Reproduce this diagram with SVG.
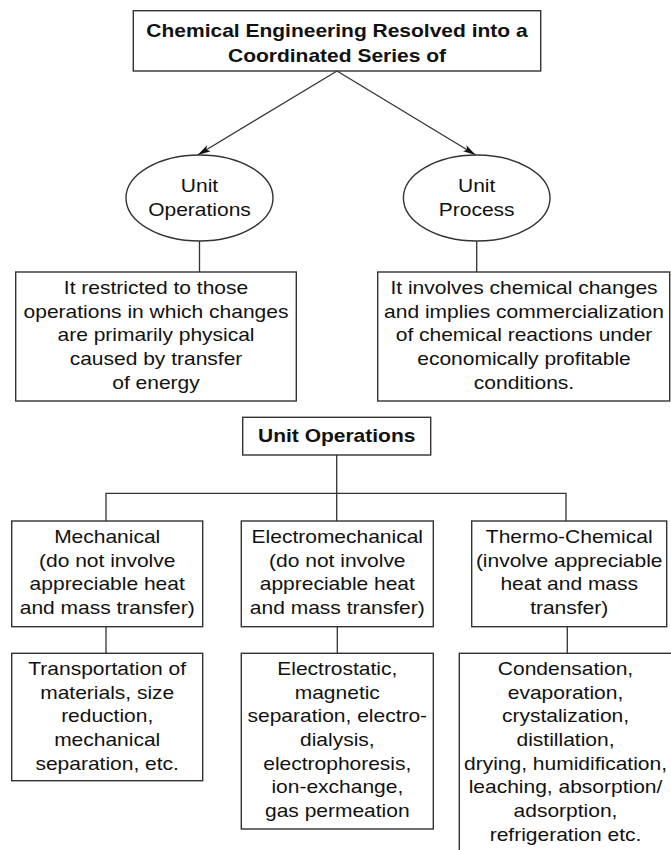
<svg xmlns="http://www.w3.org/2000/svg" width="671" height="850" viewBox="0 0 671 850">
<style>
.box{fill:#fff;stroke:#333;stroke-width:1.4}
.t{font-family:"Liberation Sans",Arial,sans-serif;font-size:17.5px;fill:#111;text-anchor:middle}
.b{font-weight:bold}
.c{fill:none;stroke:#333;stroke-width:1.3}
</style>
<defs>
<marker id="arr" markerUnits="userSpaceOnUse" markerWidth="14" markerHeight="8" refX="13" refY="3.5" orient="auto">
<path d="M0,0 L13,3.5 L0,7 L3,3.5 z" fill="#111"/>
</marker>
</defs>
<rect width="671" height="850" fill="#fff"/>

<g id="connectors">
<line class="c" x1="337" y1="71" x2="197.7" y2="155" marker-end="url(#arr)"/>
<line class="c" x1="337" y1="71" x2="475.7" y2="155" marker-end="url(#arr)"/>
<line class="c" x1="199.5" y1="241" x2="199.5" y2="272"/>
<line class="c" x1="476.7" y1="241" x2="476.7" y2="272"/>
<line class="c" x1="336.7" y1="455" x2="336.7" y2="493.3"/>
<polyline class="c" points="106,521 106,493.3 566,493.3 566,521"/>
<line class="c" x1="336.7" y1="493.3" x2="336.7" y2="521"/>
<line class="c" x1="106" y1="626.7" x2="106" y2="653.3"/>
<line class="c" x1="337.3" y1="626.7" x2="337.3" y2="653.3"/>
<line class="c" x1="567.3" y1="626.7" x2="567.3" y2="653.3"/>
</g>

<g id="top">
<rect class="box" x="133.3" y="10.7" width="407.4" height="60.3"/>
<text class="t b" transform="translate(337,0) scale(1.2,1)"><tspan x="0" y="37.3">Chemical Engineering Resolved into a</tspan><tspan x="0" y="62.3">Coordinated Series of</tspan></text>
</g>

<g id="unit-operations-ellipse">
<ellipse class="box" cx="199.5" cy="198" rx="73.5" ry="43"/>
<text class="t" transform="translate(199.5,0) scale(1.2,1)"><tspan x="0" y="192">Unit</tspan><tspan x="0" y="216">Operations</tspan></text>
</g>

<g id="unit-process-ellipse">
<ellipse class="box" cx="476.7" cy="198" rx="73.3" ry="43"/>
<text class="t" transform="translate(476.7,0) scale(1.2,1)"><tspan x="0" y="192">Unit</tspan><tspan x="0" y="216">Process</tspan></text>
</g>

<g id="ops-desc">
<rect class="box" x="15.7" y="272" width="280.6" height="129"/>
<text class="t" transform="translate(156,0) scale(1.2,1)"><tspan x="0" y="294">It restricted to those</tspan><tspan x="0" y="317.7">operations in which changes</tspan><tspan x="0" y="341.4">are primarily physical</tspan><tspan x="0" y="365.1">caused by transfer</tspan><tspan x="0" y="388.8">of energy</tspan></text>
</g>

<g id="process-desc">
<rect class="box" x="377.7" y="272" width="292" height="129"/>
<text class="t" transform="translate(524,0) scale(1.2,1)"><tspan x="0" y="294">It involves chemical changes</tspan><tspan x="0" y="317.7">and implies commercialization</tspan><tspan x="0" y="341.4">of chemical reactions under</tspan><tspan x="0" y="365.1">economically profitable</tspan><tspan x="0" y="388.8">conditions.</tspan></text>
</g>

<g id="unit-operations-box">
<rect class="box" x="242.7" y="417.3" width="188" height="37.7"/>
<text class="t b" transform="translate(336.7,0) scale(1.2,1)"><tspan x="0" y="441.7">Unit Operations</tspan></text>
</g>

<g id="mechanical">
<rect class="box" x="11.7" y="521" width="191" height="105.7"/>
<text class="t" transform="translate(107.2,0) scale(1.2,1)"><tspan x="0" y="543">Mechanical</tspan><tspan x="0" y="566.7">(do not involve</tspan><tspan x="0" y="590.4">appreciable heat</tspan><tspan x="0" y="614.1">and mass transfer)</tspan></text>
</g>

<g id="electromechanical">
<rect class="box" x="241.3" y="521" width="192" height="105.7"/>
<text class="t" transform="translate(337.3,0) scale(1.2,1)"><tspan x="0" y="543">Electromechanical</tspan><tspan x="0" y="566.7">(do not involve</tspan><tspan x="0" y="590.4">appreciable heat</tspan><tspan x="0" y="614.1">and mass transfer)</tspan></text>
</g>

<g id="thermo-chemical">
<rect class="box" x="471.7" y="521" width="195" height="105.7"/>
<text class="t" transform="translate(569.2,0) scale(1.2,1)"><tspan x="0" y="543">Thermo-Chemical</tspan><tspan x="0" y="566.7">(involve appreciable</tspan><tspan x="0" y="590.4">heat and mass</tspan><tspan x="0" y="614.1">transfer)</tspan></text>
</g>

<g id="mechanical-examples">
<rect class="box" x="11.7" y="653.3" width="191" height="127.4"/>
<text class="t" transform="translate(107.2,0) scale(1.2,1)"><tspan x="0" y="675">Transportation of</tspan><tspan x="0" y="698.7">materials, size</tspan><tspan x="0" y="722.4">reduction,</tspan><tspan x="0" y="746.1">mechanical</tspan><tspan x="0" y="769.8">separation, etc.</tspan></text>
</g>

<g id="electromechanical-examples">
<rect class="box" x="241.3" y="653.3" width="192" height="175.7"/>
<text class="t" transform="translate(337.3,0) scale(1.2,1)"><tspan x="0" y="675">Electrostatic,</tspan><tspan x="0" y="698.7">magnetic</tspan><tspan x="0" y="722.4">separation, electro-</tspan><tspan x="0" y="746.1">dialysis,</tspan><tspan x="0" y="769.8">electrophoresis,</tspan><tspan x="0" y="793.5">ion-exchange,</tspan><tspan x="0" y="817.2">gas permeation</tspan></text>
</g>

<g id="thermo-chemical-examples">
<rect class="box" x="459.3" y="653.3" width="214" height="210"/>
<text class="t" transform="translate(565.5,0) scale(1.2,1)"><tspan x="0" y="675">Condensation,</tspan><tspan x="0" y="698.7">evaporation,</tspan><tspan x="0" y="722.4">crystalization,</tspan><tspan x="0" y="746.1">distillation,</tspan><tspan x="0" y="769.8">drying, humidification,</tspan><tspan x="0" y="793.5">leaching, absorption/</tspan><tspan x="0" y="817.2">adsorption,</tspan><tspan x="0" y="840.9">refrigeration etc.</tspan></text>
</g>
</svg>
